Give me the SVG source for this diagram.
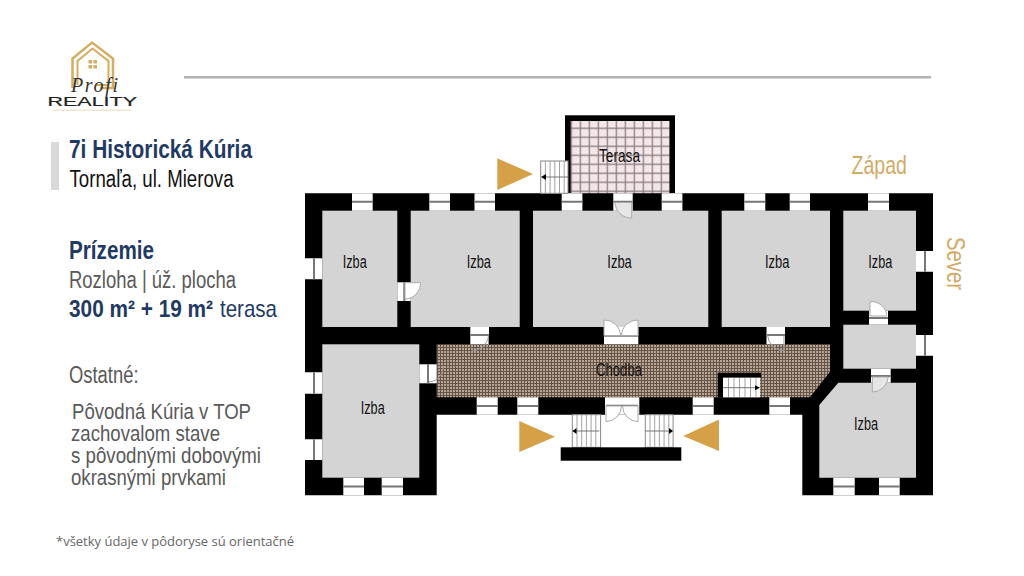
<svg xmlns="http://www.w3.org/2000/svg" width="1024" height="576" viewBox="0 0 1024 576">
<style>
text{font-family:"Liberation Sans",Arial,sans-serif}
.h{fill:#1f3a63;font-weight:700}
.g{fill:#595959}
.room{fill:#d4d4d4}
.gap{fill:#fff}
.win{stroke:#777;stroke-width:2;fill:none}
.arc{fill:#fff;stroke:#aaa;stroke-width:1}
.arcn{fill:none;stroke:#999;stroke-width:1}
.st{fill:#fff;stroke:#888;stroke-width:1}
.stl{stroke:#999;stroke-width:.9;fill:none}
.stm{stroke:#666;stroke-width:.9;fill:none}
.l{fill:#111;font-size:17.500px}
.tri{fill:#d5a046}
.gold{fill:#d2ab66}
.logo{fill:none;stroke:#d6ac5e}
</style>
<defs>
<pattern id="tile" x="570.7" y="118.6" width="9" height="9" patternUnits="userSpaceOnUse"><rect width="9" height="9" fill="#f3e6e8"/><path d="M0 .6H9M.6 0V9" stroke="#86787a" stroke-width="1.2"/></pattern>
<pattern id="mesh" x="437" y="344" width="3" height="3" patternUnits="userSpaceOnUse"><rect width="3" height="3" fill="#b8a592"/><path d="M0 .5H3M.5 0V3" stroke="#64544a" stroke-width="1"/></pattern>
</defs>
<rect width="1024" height="576" fill="#fff"/>

<g id="logo">
<path class="logo" stroke-width="2.500" d="M72.500 88V58.500L92 42.500 113 58.500V88H100"/>
<path class="logo" stroke-width="2" d="M77.500 85V61L92.500 48.500 108.500 61V85H96"/>
<path d="M88.500 60h3.500v3.500h-3.500zM93.500 60h3.500v3.500h-3.500zM88.500 65h3.500v3.500h-3.500zM93.500 65h3.500v3.500h-3.500z" fill="#d6ac5e"/>
<text x="71" y="92" font-size="20" font-style="italic" fill="#333" textLength="47" lengthAdjust="spacing" style="font-family:'Liberation Serif',serif">Profi</text>
<text x="47.500" y="106" font-size="13" fill="#222" stroke="#222" stroke-width=".2" textLength="89.500" lengthAdjust="spacingAndGlyphs">REALITY</text>
<rect x="53" y="109.500" width="79" height="1.500" fill="#f1e7d0"/>
</g>
<rect id="rule" x="184" y="76" width="747" height="2.500" fill="#b2b2b2"/>

<g id="info">
<rect x="51" y="142" width="8" height="48" fill="#d9d9d9"/>
<text class="h" x="69" y="158" font-size="25" textLength="183" lengthAdjust="spacingAndGlyphs">7i Historická Kúria</text>
<text x="69.500" y="186.500" font-size="23" fill="#111" textLength="164" lengthAdjust="spacingAndGlyphs">Tornaľa, ul. Mierova</text>
<text class="h" x="69" y="259" font-size="25" textLength="85" lengthAdjust="spacingAndGlyphs">Prízemie</text>
<text class="g" x="69" y="287.500" font-size="23" textLength="167" lengthAdjust="spacingAndGlyphs">Rozloha | úž. plocha</text>
<text class="h" x="69" y="316.500" font-size="24" textLength="144" lengthAdjust="spacingAndGlyphs">300 m² + 19 m²</text>
<text x="220" y="316.500" font-size="24" fill="#1f3a63" textLength="57" lengthAdjust="spacingAndGlyphs">terasa</text>
<text class="g" x="69" y="383" font-size="23" textLength="69.500" lengthAdjust="spacingAndGlyphs">Ostatné:</text>
<text class="g" x="72" y="419" font-size="22" textLength="179" lengthAdjust="spacingAndGlyphs">Pôvodná Kúria v TOP</text>
<text class="g" x="71" y="441" font-size="22" textLength="149" lengthAdjust="spacingAndGlyphs">zachovalom stave</text>
<text class="g" x="71" y="462.500" font-size="22" textLength="190" lengthAdjust="spacingAndGlyphs">s pôvodnými dobovými</text>
<text class="g" x="71" y="484.500" font-size="22" textLength="155" lengthAdjust="spacingAndGlyphs">okrasnými prvkami</text>
<text x="56" y="546" font-size="13" fill="#666" textLength="238" lengthAdjust="spacingAndGlyphs" style="font-family:'Open Sans',sans-serif">*všetky údaje v pôdoryse sú orientačné</text>
</g>

<g id="plan">
<g id="terrace">
<rect x="565" y="115.300" width="110" height="78" fill="#000"/>
<rect x="570.700" y="121" width="98.800" height="72.500" fill="url(#tile)"/>
<text x="599" y="162.300" font-size="17.500" fill="#111" textLength="41" lengthAdjust="spacingAndGlyphs">Terasa</text>
</g>
<path id="walls" d="M305 193.300H933V495.300H802.300V414.700H436.700V495.300H305Z" fill="#000"/>
<g id="rooms">
<rect class="room" x="322.300" y="210.700" width="75" height="116.300"/>
<rect class="room" x="410.700" y="210.700" width="109" height="116.300"/>
<rect class="room" x="533" y="210.700" width="175.300" height="116.300"/>
<rect class="room" x="721.700" y="210.700" width="108.300" height="116.300"/>
<rect class="room" x="843.300" y="210.700" width="72.700" height="100"/>
<rect class="room" x="322.300" y="344.300" width="97" height="133.400"/>
<rect class="room" x="843.300" y="324.700" width="72.700" height="44"/>
<path class="room" d="M819.300 405L838.300 382.700H916V477.700H819.300Z"/>
<path d="M436.700 344.300H830V371.700L810 397.300H436.700Z" fill="url(#mesh)"/>
</g>
<g id="openings">
<path class="gap" d="M352 193.300h20.700v17.400h-20.700zM429.300 193.300h20.700v17.400h-20.700zM474.500 193.300h20.500v17.400h-20.500zM561.700 193.300h20.700v17.400h-20.700zM613.300 193.300h19.400v17.400h-19.400zM661.700 193.300h20.700v17.400h-20.700zM744.300 193.300h21v17.400h-21zM789.700 193.300h20.300v17.400h-20.300zM868 193.300h21v17.400h-21z"/>
<path class="win" d="M352 201.700h20.700M429.300 201.700h20.700M474.500 201.700h20.500M561.700 201.700h20.700M613.300 201.700h19.400M661.700 201.700h20.700M744.300 201.700h21M789.700 201.700h20.300M868 201.700h21"/>
<path class="gap" d="M305 258.300h17.300v21h-17.300zM305 372.300h17.300v21.400h-17.300zM305 439.300h17.300v20.700h-17.300zM916 251h17.300v20.700h-17.300zM916 335h17.300v20.700h-17.300z"/>
<path class="win" d="M314 258.300v21M314 372.300v21.400M314 439.300v20.700M925 251v20.700M925 335v20.700"/>
<path class="gap" d="M343.300 477.700h20.700v17.600h-20.700zM381.700 477.700h21.300v17.600h-21.300zM833.300 477.700h21.400v17.600h-21.400zM879 477.700h20.700v17.600h-20.700zM476.700 397.300h21v17.400h-21zM517.300 397.300h21v17.400h-21zM692.700 397.300h21v17.400h-21zM769.300 397.300h20.700v17.400h-20.700z"/>
<path class="win" d="M343.300 486.500h20.700M381.700 486.500h21.300M833.300 486.500h21.400M879 486.500h20.700M476.700 406h21M517.300 406h21M692.700 406h21M769.300 406h20.700"/>
</g>
<g id="doors">
<rect class="gap" x="397.300" y="282.300" width="13.400" height="18.700"/>
<path class="win" d="M404.300 282.300v18.700"/>
<path class="arc" d="M405 282.700H420.700A16 16 0 0 1 405 299Z"/>
<rect class="gap" x="419.300" y="364.300" width="17.400" height="19"/>
<path class="win" d="M428 364.300v19"/>
<path class="arcn" d="M443.500 366A16 16 0 0 1 429 382" stroke="#ddd"/>
<rect class="gap" x="470.300" y="327" width="18.700" height="17.300"/>
<path class="win" d="M470.300 335h18.700"/>
<path class="arcn" d="M471.700 351A17 17 0 0 0 488.500 335.500V344"/>
<path class="gap" d="M604 327h34.300v17.300H604z"/>
<path class="win" d="M604 335.700h34.300"/>
<path class="arc" d="M604 320A16 16 0 0 1 620.500 335.500H604ZM638 320A16 16 0 0 0 621.500 335.500H638Z"/>
<rect class="gap" x="766.500" y="327" width="18.500" height="17.300"/>
<path class="win" d="M766.500 335h18.500"/>
<path class="arcn" d="M767.500 335A17 17 0 0 0 784 351V335"/>
<rect class="gap" x="869" y="310.700" width="19" height="14"/>
<path class="win" d="M869 318h19"/>
<path class="arc" d="M870 301.700A15 15 0 0 1 886.700 316H870Z"/>
<rect class="gap" x="871" y="368.700" width="19.700" height="14"/>
<path class="win" d="M871 376h19.700"/>
<path class="arc" d="M872.300 377H888.300A16 16 0 0 1 872.300 392Z" style="fill:#e6e6e6"/>
<path class="arc" d="M631.700 202.500V218A16 16 0 0 1 615 202.500Z" style="fill:#e6e6e6"/>
<rect class="gap" x="605" y="397.300" width="34.300" height="17.400"/>
<path class="win" d="M606 405.700h32" stroke-width="1.500"/>
<path class="arc" d="M606 406H621.500A16 16 0 0 1 606 421.700ZM638 406H622.500A16 16 0 0 0 638 421.700Z"/>
</g>
<g id="stairs">
<rect class="st" x="540.700" y="161" width="27.300" height="32.300"/>
<path class="stl" d="M545.400 161v32M550.100 161v32M554.800 161v32M559.500 161v32M564.200 161v32"/>
<path class="stm" d="M543 177h25"/>
<path d="M541 177l5-3v6z" fill="#000"/>
<rect class="st" x="572.300" y="414.700" width="28.300" height="32.600"/>
<path class="stl" d="M577 414.700v32M581.700 414.700v32M586.400 414.700v32M591.100 414.700v32M595.800 414.700v32"/>
<path class="stm" d="M572.300 431h27"/>
<path d="M572.500 431l4-3v6z" fill="#000"/>
<rect class="st" x="645.300" y="414.700" width="27.800" height="32.600"/>
<path class="stl" d="M650 414.700v32M654.700 414.700v32M659.400 414.700v32M664.100 414.700v32M668.800 414.700v32"/>
<path class="stm" d="M645.300 431h26"/>
<path d="M673 431l-4-3v6z" fill="#000"/>
<path d="M717.700 372.700H761V377.700H723V397.300H717.700Z" fill="#000"/>
<rect x="723" y="377.700" width="37" height="19.600" fill="#fff"/>
<path class="stl" d="M728.500 377.700v19.600M734 377.700v19.600M739.500 377.700v19.600M745 377.700v19.600M750.500 377.700v19.600M756 377.700v19.600"/>
<path class="stm" d="M723 387.700h33"/>
<path d="M760 387.700l-5-2.500v5z" fill="#000"/>
<rect x="560.700" y="447.300" width="120.600" height="13.400" fill="#000"/>
</g>
<g id="labels">
<text class="l" x="342.700" y="267.500" textLength="24" lengthAdjust="spacingAndGlyphs">Izba</text>
<text class="l" x="466.700" y="267.500" textLength="24.300" lengthAdjust="spacingAndGlyphs">Izba</text>
<text class="l" x="607.300" y="267.500" textLength="24.500" lengthAdjust="spacingAndGlyphs">Izba</text>
<text class="l" x="765" y="267.500" textLength="24.500" lengthAdjust="spacingAndGlyphs">Izba</text>
<text class="l" x="868.300" y="267.500" textLength="24" lengthAdjust="spacingAndGlyphs">Izba</text>
<text class="l" x="360.700" y="414.300" textLength="24" lengthAdjust="spacingAndGlyphs">Izba</text>
<text class="l" x="854" y="430" textLength="24" lengthAdjust="spacingAndGlyphs">Izba</text>
<text class="l" x="596" y="376" textLength="46" lengthAdjust="spacingAndGlyphs">Chodba</text>
</g>
</g>
<g id="arrows">
<path class="tri" d="M497.300 158.300V190L533 174Z"/>
<path class="tri" d="M519.300 421V452L555 436.700Z"/>
<path class="tri" d="M719 419.500V451L683.300 436Z"/>
</g>
<g id="compass">
<text class="gold" x="851.500" y="174" font-size="26" textLength="55.500" lengthAdjust="spacingAndGlyphs">Západ</text>
<text class="gold" transform="translate(947 237) rotate(90)" font-size="26" textLength="53" lengthAdjust="spacingAndGlyphs">Sever</text>
</g>
</svg>
